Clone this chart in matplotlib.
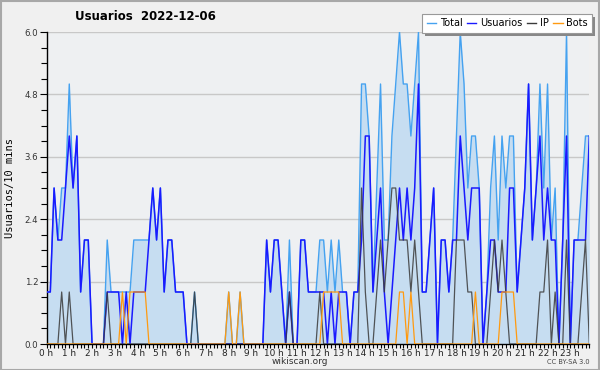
import matplotlib
matplotlib.use("Agg")
import matplotlib.pyplot as plt
from matplotlib.lines import Line2D
from matplotlib.patches import Rectangle
import numpy as np

# ---------------- data (10-minute steps, 144 points) ----------------
hour_labels = [f"{h} h" for h in range(24)]
y_ticks = [0.0, 1.2, 2.4, 3.6, 4.8, 6.0]

total = [1, 1, 3, 2, 3, 3, 5, 3, 4, 1, 2, 2, 0, 0, 0, 0, 2, 1, 1, 1, 1, 1, 1, 2,
         2, 2, 2, 2, 3, 2, 3, 1, 2, 2, 1, 1, 1, 0, 0, 1, 0, 0, 0, 0, 0, 0, 0, 0,
         1, 0, 0, 1, 0, 0, 0, 0, 0, 0, 2, 1, 2, 2, 1, 0, 2, 0, 0, 2, 2, 1, 1, 1,
         2, 2, 1, 2, 1, 2, 1, 1, 0, 1, 1, 5, 5, 4, 1, 3, 5, 2, 2, 4, 5, 6, 5, 5,
         4, 5, 6, 1, 1, 2, 3, 0, 2, 2, 1, 2, 4, 6, 5, 3, 4, 4, 3, 0, 1, 3, 4, 2,
         4, 3, 4, 4, 1, 2, 3, 5, 2, 3, 5, 3, 5, 2, 3, 0, 2, 6, 0, 2, 2, 3, 4, 4]

usuarios = [1, 1, 3, 2, 2, 3, 4, 3, 4, 1, 2, 2, 0, 0, 0, 0, 1, 1, 1, 1, 0, 1, 0, 1,
            1, 1, 1, 2, 3, 2, 3, 1, 2, 2, 1, 1, 1, 0, 0, 0, 0, 0, 0, 0, 0, 0, 0, 0,
            0, 0, 0, 0, 0, 0, 0, 0, 0, 0, 2, 1, 2, 2, 1, 0, 1, 0, 0, 2, 2, 1, 1, 1,
            1, 1, 0, 1, 0, 1, 1, 1, 0, 1, 1, 2, 4, 4, 1, 2, 3, 1, 0, 1, 2, 3, 2, 3,
            2, 3, 5, 1, 1, 2, 3, 0, 2, 2, 1, 2, 2, 4, 3, 2, 3, 3, 3, 0, 1, 2, 2, 1,
            1, 1, 3, 3, 1, 2, 3, 5, 2, 3, 4, 2, 3, 2, 2, 0, 2, 4, 0, 2, 2, 2, 2, 4]

ip = [0, 0, 0, 0, 1, 0, 1, 0, 0, 0, 0, 0, 0, 0, 0, 0, 1, 0, 0, 0, 0, 0, 0, 0,
      0, 0, 0, 0, 0, 0, 0, 0, 0, 0, 0, 0, 0, 0, 0, 1, 0, 0, 0, 0, 0, 0, 0, 0,
      0, 0, 0, 0, 0, 0, 0, 0, 0, 0, 0, 0, 0, 0, 0, 0, 1, 0, 0, 0, 0, 0, 0, 0,
      1, 0, 0, 0, 0, 0, 0, 0, 0, 0, 0, 3, 1, 0, 0, 1, 2, 1, 2, 3, 3, 2, 2, 2,
      1, 2, 1, 0, 0, 0, 0, 0, 0, 0, 0, 0, 2, 2, 2, 1, 1, 0, 0, 0, 0, 1, 2, 1,
      2, 1, 0, 0, 0, 0, 0, 0, 0, 0, 1, 1, 2, 0, 1, 0, 0, 2, 0, 0, 0, 1, 2, 0]

bots = [0, 0, 0, 0, 0, 0, 0, 0, 0, 0, 0, 0, 0, 0, 0, 0, 0, 0, 0, 0, 1, 0, 1, 1,
        1, 1, 1, 0, 0, 0, 0, 0, 0, 0, 0, 0, 0, 0, 0, 0, 0, 0, 0, 0, 0, 0, 0, 0,
        1, 0, 0, 1, 0, 0, 0, 0, 0, 0, 0, 0, 0, 0, 0, 0, 0, 0, 0, 0, 0, 0, 0, 0,
        0, 1, 1, 1, 1, 1, 0, 0, 0, 0, 0, 0, 0, 0, 0, 0, 0, 0, 0, 0, 0, 1, 1, 0,
        1, 0, 0, 0, 0, 0, 0, 0, 0, 0, 0, 0, 0, 0, 0, 0, 0, 1, 0, 0, 0, 0, 0, 0,
        1, 1, 1, 1, 0, 0, 0, 0, 0, 0, 0, 0, 0, 0, 0, 0, 0, 0, 0, 0, 0, 0, 0, 0]

# ---------------- style ----------------
C_TOTAL = "#45a2f0"
C_FILL = "#c6ddf1"
C_USER = "#1a1aff"
C_IP = "#3a3a3a"
C_BOTS = "#ff9a10"
BG = "#f0f0f0"
AX_BG = "#eef0f2"

W, H = 600, 370
plt.rcParams["font.family"] = ["DejaVu Sans"]
fig = plt.figure(figsize=(W / 100, H / 100), dpi=100, facecolor=BG)

L, R, T, B = 46.5, 589.3, 32, 344
ax = fig.add_axes([L / W, 1 - B / H, (R - L) / W, (B - T) / H])
ax.set_facecolor(AX_BG)

x = np.arange(len(total))
ax.fill_between(x, 0, total, color=C_FILL, lw=0, zorder=1)
ax.plot(x, total, color=C_TOTAL, lw=1.0, zorder=3)
ax.plot(x, usuarios, color=C_USER, lw=1.1, zorder=4)
ax.plot(x, ip, color=C_IP, lw=0.9, alpha=0.85, zorder=5)
ax.plot(x, bots, color=C_BOTS, lw=0.9, zorder=6)

ax.set_xlim(0, len(total) - 1)
ax.set_ylim(0, 6.0)

for yv in y_ticks[1:]:
    ax.axhline(yv, color="#c8c8c8", lw=1.0, zorder=0.5)

ax.set_yticks(y_ticks)
ax.set_yticklabels([f"{v:.1f}" for v in y_ticks], fontsize=6.2, color="#333333")
ax.set_yticks(np.arange(0, 6.01, 0.3), minor=True)
ax.set_xticks(np.arange(0, 24) * 6)
ax.set_xticklabels(hour_labels, fontsize=6.4, color="#222222")
ax.set_xticks(np.arange(0, 144, 1), minor=True)
ax.tick_params(axis="x", which="both", direction="out", length=3, width=0.8, color="black", pad=0.5)
ax.tick_params(axis="y", which="both", direction="out", length=4, width=0.8, color="black", pad=1)
ax.tick_params(axis="y", which="major", length=5)

for s in ["top", "right"]:
    ax.spines[s].set_visible(False)
for s in ["left", "bottom"]:
    ax.spines[s].set_color("black")
    ax.spines[s].set_linewidth(1.0)

ax.set_ylabel("Usuarios/10 mins", fontsize=7.5, family="DejaVu Sans Mono", labelpad=7)

fig.text(75 / W, 1 - 17 / H, "Usuarios  2022-12-06", fontsize=8.5, fontweight="bold",
         ha="left", va="center")
fig.text(300 / W, 1 - 362 / H, "wikiscan.org", fontsize=6.5, ha="center", va="center", color="#333333")
fig.text(590 / W, 1 - 362 / H, "CC BY-SA 3.0", fontsize=4.8, ha="right", va="center", color="#444444")

# legend
handles = [Line2D([], [], color=C_TOTAL, lw=1),
           Line2D([], [], color=C_USER, lw=1),
           Line2D([], [], color=C_IP, lw=1),
           Line2D([], [], color=C_BOTS, lw=1)]
leg = fig.legend(handles, ["Total", "Usuarios", "IP", "Bots"], loc="upper right",
                 bbox_to_anchor=(592 / W, 1 - 14 / H), ncol=4, fontsize=7,
                 frameon=True, fancybox=False, shadow=False, handlelength=1.0,
                 handletextpad=0.35, columnspacing=0.45, borderpad=0.45, borderaxespad=0)
leg.get_frame().set_edgecolor("#999999")
leg.get_frame().set_linewidth(0.8)
leg.get_frame().set_facecolor("white")
leg.get_frame().set_alpha(1)
leg.set_zorder(10)
fig.canvas.draw()
bb = leg.get_window_extent()
fig.patches.append(Rectangle(((bb.x0 + 3) / W, (bb.y0 - 3) / H), bb.width / W, bb.height / H,
                             transform=fig.transFigure, facecolor="#888888", edgecolor="none", zorder=9))

# outer border
fig.patches.append(Rectangle((0.5 / W, 0.5 / H), (W - 1.5) / W, (H - 1.5) / H, transform=fig.transFigure,
                             fill=False, edgecolor="#a8a8a8", lw=1.5, zorder=20))

fig.savefig("out.png", dpi=100, facecolor=BG)
